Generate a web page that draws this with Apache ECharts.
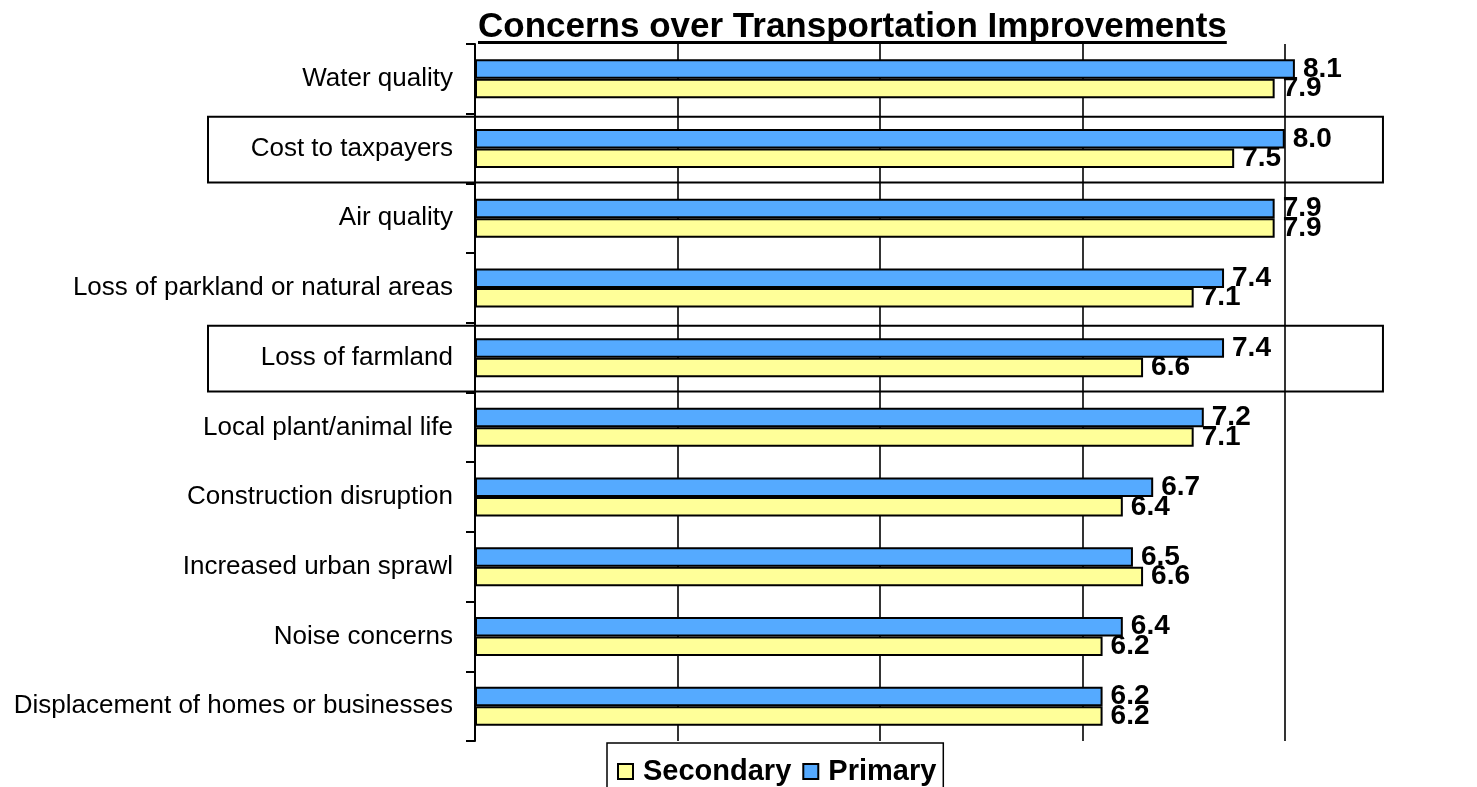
<!DOCTYPE html>
<html>
<head>
<meta charset="utf-8">
<title>Concerns over Transportation Improvements</title>
<script src="https://cdn.jsdelivr.net/npm/echarts@6/dist/echarts.min.js"></script>
<style>
  html, body { margin: 0; padding: 0; background: #ffffff; }
  #chart { width: 1477px; height: 787px; }
</style>
</head>
<body>
<div id="chart"></div>
<script>
// Concern categories, listed top to bottom
var categories = [
  'Water quality',
  'Cost to taxpayers',
  'Air quality',
  'Loss of parkland or natural areas',
  'Loss of farmland',
  'Local plant/animal life',
  'Construction disruption',
  'Increased urban sprawl',
  'Noise concerns',
  'Displacement of homes or businesses'
];

// Mean concern ratings
var primaryValues   = [8.1, 8.0, 7.9, 7.4, 7.4, 7.2, 6.7, 6.5, 6.4, 6.2];
var secondaryValues = [7.9, 7.5, 7.9, 7.1, 6.6, 7.1, 6.4, 6.6, 6.2, 6.2];

// Categories outlined with a box
var highlighted = ['Cost to taxpayers', 'Loss of farmland'];

var titleText = 'Concerns over Transportation Improvements';
var FONT = '"Liberation Sans", Arial, Helvetica, sans-serif';
var TITLE_SIZE = 35;

var chart = echarts.init(document.getElementById('chart'), null, { renderer: 'canvas' });

var valueLabel = {
  show: true,
  position: 'right',
  distance: 8,
  formatter: function (p) { return p.value.toFixed(1); },
  fontFamily: FONT,
  fontSize: 28,
  fontWeight: 'bold',
  color: '#000000'
};

var option = {
  backgroundColor: '#ffffff',
  animation: false,
  title: {
    text: titleText,
    left: 478,
    top: 10,
    padding: 0,
    textStyle: { fontFamily: FONT, fontSize: TITLE_SIZE, fontWeight: 'bold', color: '#000000' }
  },
  legend: {
    data: ['Secondary', 'Primary'],
    left: 607,
    top: 743,
    orient: 'horizontal',
    padding: [14, 7, 16, 10],
    itemGap: 11,
    itemWidth: 15,
    itemHeight: 15,
    icon: 'rect',
    borderColor: '#000000',
    borderWidth: 1.5,
    backgroundColor: '#ffffff',
    textStyle: { fontFamily: FONT, fontSize: 29, fontWeight: 'bold', color: '#000000', padding: [0, 0, 0, 5] }
  },
  grid: { left: 475, right: 91, top: 44, bottom: 46, containLabel: false },
  xAxis: {
    type: 'value',
    min: 0,
    max: 9,
    interval: 2,
    axisLine: { show: false },
    axisTick: { show: false },
    axisLabel: { show: false },
    splitLine: { show: true, showMaxLine: false, lineStyle: { color: '#000000', width: 1.6 } }
  },
  yAxis: {
    type: 'category',
    inverse: true,
    data: categories,
    boundaryGap: true,
    axisLine: { show: true, lineStyle: { color: '#000000', width: 2 } },
    axisTick: { show: true, inside: false, length: 9, lineStyle: { color: '#000000', width: 2 } },
    axisLabel: { fontFamily: FONT, fontSize: 26, color: '#000000', margin: 22 },
    splitLine: { show: false }
  },
  series: [
    {
      name: 'Primary',
      type: 'bar',
      data: primaryValues,
      barGap: '0%',
      barCategoryGap: '44%',
      itemStyle: { color: '#55AAFF', borderColor: '#000000', borderWidth: 2 },
      label: valueLabel
    },
    {
      name: 'Secondary',
      type: 'bar',
      data: secondaryValues,
      barGap: '0%',
      barCategoryGap: '44%',
      itemStyle: { color: '#FFFF99', borderColor: '#000000', borderWidth: 2 },
      label: valueLabel
    }
  ]
};

chart.setOption(option);

// Title underline and outline boxes around highlighted categories
function drawOverlays() {
  var ctx = document.createElement('canvas').getContext('2d');
  ctx.font = 'bold ' + TITLE_SIZE + 'px ' + FONT;
  var titleWidth = ctx.measureText(titleText).width;

  var elements = [{
    type: 'rect',
    shape: { x: 478, y: 41, width: titleWidth, height: 3 },
    style: { fill: '#000000' },
    silent: true
  }];

  var boxRight = chart.convertToPixel({ gridIndex: 0 }, [8.97, 0])[0];
  var p0 = chart.convertToPixel({ yAxisIndex: 0 }, categories[0]);
  var p1 = chart.convertToPixel({ yAxisIndex: 0 }, categories[1]);
  var band = Math.abs(p1 - p0);

  highlighted.forEach(function (name) {
    var cy = chart.convertToPixel({ yAxisIndex: 0 }, name);
    elements.push({
      type: 'rect',
      shape: { x: 208, y: cy - band / 2 + 3, width: boxRight - 208, height: band - 4 },
      style: { fill: null, stroke: '#000000', lineWidth: 2 },
      silent: true,
      z: 10
    });
  });

  chart.setOption({ graphic: { elements: elements } });
}
drawOverlays();
</script>
</body>
</html>
